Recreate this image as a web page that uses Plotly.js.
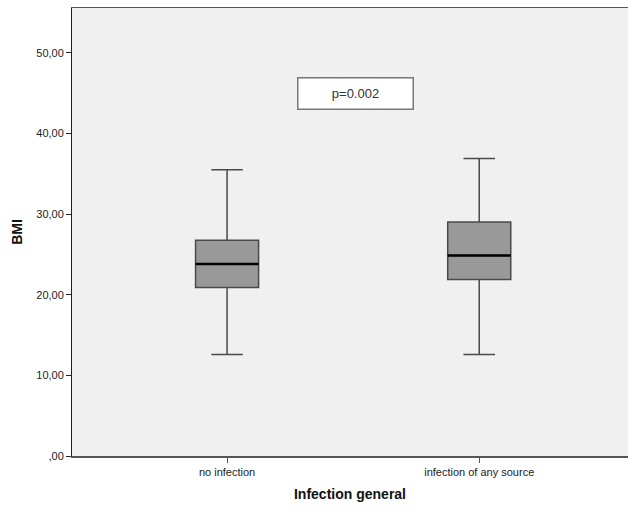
<!DOCTYPE html>
<html>
<head>
<meta charset="utf-8">
<script src="https://cdn.plot.ly/plotly-3.0.1.min.js"></script>
<style>html,body{margin:0;padding:0;background:#fff;}#chart{width:628px;height:511px;}</style>
</head>
<body>
<div id="chart"></div>
<script>
const categories = ["no infection", "infection of any source"];
const lowerWhisker = [12.6, 12.6];
const q1Values = [20.9, 21.9];
const medianValues = [23.8, 24.85];
const q3Values = [26.75, 29.0];
const upperWhisker = [35.5, 36.9];
const yTickVals = [0, 10, 20, 30, 40, 50];
const yTickText = [",00", "10,00", "20,00", "30,00", "40,00", "50,00"];
const pValueText = "p=0.002";

const boxTrace = {
  type: "box",
  x: categories,
  q1: q1Values,
  median: medianValues,
  q3: q3Values,
  lowerfence: lowerWhisker,
  upperfence: upperWhisker,
  width: 0.25,
  whiskerwidth: 0.5,
  fillcolor: "#999999",
  line: {color: "#4a4a4a", width: 1.5},
  hoverinfo: "skip",
  showlegend: false
};
const medianTrace = {
  type: "box",
  x: categories,
  q1: medianValues,
  median: medianValues,
  q3: medianValues,
  lowerfence: medianValues,
  upperfence: medianValues,
  width: 0.25,
  whiskerwidth: 0,
  fillcolor: "rgba(0,0,0,0)",
  line: {color: "#000000", width: 2.5},
  hoverinfo: "skip",
  showlegend: false
};

const layout = {
  width: 628, height: 511,
  margin: {l: 72, r: 0, t: 8, b: 55},
  paper_bgcolor: "#ffffff",
  plot_bgcolor: "#f0f0f0",
  font: {family: "Liberation Sans, Arial, sans-serif", color: "#222"},
  boxmode: "overlay",
  xaxis: {
    type: "category",
    range: [-0.615, 1.59],
    showgrid: false, zeroline: false,
    showline: true, linecolor: "#555", linewidth: 1.5, mirror: true,
    ticks: "outside", ticklen: 5, tickcolor: "#555",
    tickfont: {size: 11, color: "#222"},
    title: {text: "Infection general", font: {size: 14, color: "#111", family: "Liberation Sans, Arial, sans-serif", weight: "bold"}, standoff: 12}
  },
  yaxis: {
    range: [0, 55.55],
    tickvals: yTickVals, ticktext: yTickText,
    showgrid: false, zeroline: false,
    showline: true, linecolor: "#222", linewidth: 1,
    ticks: "outside", ticklen: 5, tickcolor: "#222",
    tickfont: {size: 11, color: "#222"},
    title: {text: "BMI", font: {size: 14, color: "#111", family: "Liberation Sans, Arial, sans-serif", weight: "bold"}, standoff: 10}
  },
  annotations: [{
    x: 0.51, y: 45, xref: "x", yref: "y",
    text: pValueText, showarrow: false,
    font: {size: 13, color: "#333"},
    bgcolor: "#ffffff", bordercolor: "#777", borderwidth: 1.5,
    width: 112, height: 28
  }]
};

Plotly.newPlot("chart", [boxTrace, medianTrace], layout, {displayModeBar: false, staticPlot: true});
</script>
</body>
</html>
